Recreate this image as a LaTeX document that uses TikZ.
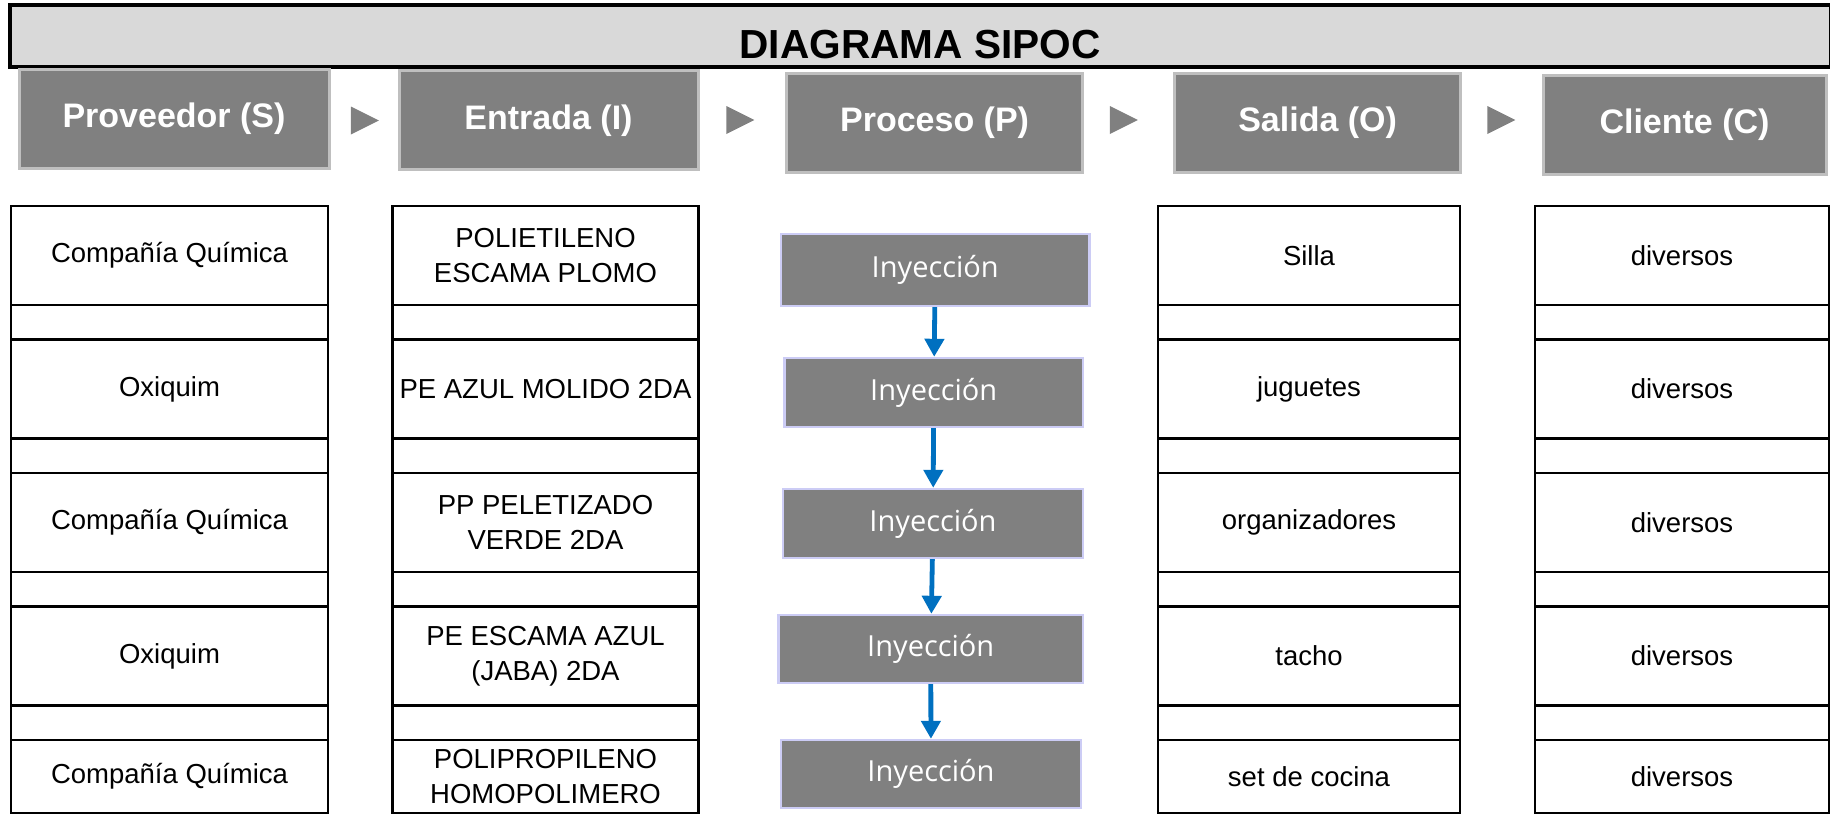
\documentclass[tikz,border=0pt]{standalone}
\usepackage{fontspec}
\setmainfont{Liberation Sans}
\newfontfamily\procfont{Open Sans}
\usetikzlibrary{arrows.meta,shapes.geometric}

\definecolor{grisCaja}{HTML}{808080}
\definecolor{grisBorde}{HTML}{BFBFBF}
\definecolor{grisTitulo}{HTML}{D9D9D9}
\definecolor{lilaBorde}{HTML}{CCCCF5}
\definecolor{azulFlecha}{HTML}{0070C0}

\tikzset{
  titulo/.style={draw=black, line width=1.7pt, fill=grisTitulo, minimum width=910.5pt, minimum height=31pt, inner sep=0pt},
  cabecera/.style={fill=grisCaja, draw=grisBorde, line width=1.5pt, text=white, font=\bfseries\fontsize{17}{20}\selectfont, minimum height=49.5pt, inner sep=0pt},
  flecha/.style={isosceles triangle, isosceles triangle stretches, fill=grisCaja, minimum width=14pt, minimum height=14pt, inner sep=0pt},
  celda/.style={draw=black, line width=1.2pt, align=center, inner sep=0pt, font=\fontsize{13.75}{17.5}\selectfont},
  colS/.style={minimum width=158.5pt},
  colE/.style={minimum width=153pt},
  colO/.style={minimum width=151pt},
  colC/.style={minimum width=147pt},
  proceso/.style={fill=grisCaja, draw=lilaBorde, line width=1.2pt, text=white, font=\procfont\fontsize{14.5}{17}\selectfont, inner sep=0pt},
  flujo/.style={draw=azulFlecha, line width=2.4pt, -{Triangle[length=9pt,width=9.5pt]}}
}

\begin{document}
\begin{tikzpicture}[x=0.5pt, y=-0.5pt]
\useasboundingbox (0,0) rectangle (1830,814);

% titulo
\node[titulo] (barra) at (920.5,36) {};
\node[font=\bfseries\fontsize{20.3}{23}\selectfont] (tituloTexto) at (920,44.5) {DIAGRAMA SIPOC};

% cabeceras SIPOC
\node[cabecera, minimum width=155pt] (hs) at (174,118.5) {Proveedor (S)};
\node[cabecera, minimum width=149.5pt] (he) at (548.5,120.3) {Entrada (I)};
\node[cabecera, minimum width=148pt] (hp) at (934.6,122.8) {Proceso (P)};
\node[cabecera, minimum width=142.7pt] (ho) at (1317.6,122.5) {Salida (O)};
\node[cabecera, minimum width=141.5pt] (hc) at (1684.5,124.5) {Cliente (C)};

\node[flecha] (t1) at (359.5,120.5) {};
\node[flecha] (t2) at (735,120) {};
\node[flecha] (t3) at (1118.5,120) {};
\node[flecha] (t4) at (1496,120) {};

% filas de la tabla
\foreach \i/\y/\h/\sv/\ev/\ov in {
  1/255.5/49.5/Compañía Química/{POLIETILENO\\ESCAMA PLOMO}/Silla,
  2/389/49.5/Oxiquim/PE AZUL MOLIDO 2DA/juguetes,
  3/522.5/49.5/Compañía Química/{PP PELETIZADO\\VERDE 2DA}/organizadores,
  4/656/49.5/Oxiquim/{PE ESCAMA AZUL\\(JABA) 2DA}/tacho,
  5/776.5/36.5/Compañía Química/{POLIPROPILENO\\HOMOPOLIMERO}/set de cocina}
{
  \node[celda, colS, minimum height=\h pt] (s\i) at (169.5,\y) {\sv};
  \node[celda, colE, minimum height=\h pt] (e\i) at (545.5,\y) {\ev};
  \node[celda, colO, minimum height=\h pt] (o\i) at (1309,\y) {\ov};
  \node[celda, colC, minimum height=\h pt] (c\i) at (1682,\y) {diversos};
}
\foreach \i in {1,...,4} {
  \node[celda, colS, minimum height=17.25pt] (gs\i) at (169.5,{322.25+133.5*(\i-1)}) {};
  \node[celda, colE, minimum height=17.25pt] (ge\i) at (545.5,{322.25+133.5*(\i-1)}) {};
  \node[celda, colO, minimum height=17.25pt] (go\i) at (1309,{322.25+133.5*(\i-1)}) {};
  \node[celda, colC, minimum height=17.25pt] (gc\i) at (1682,{322.25+133.5*(\i-1)}) {};
}

% proceso
\node[proceso, minimum width=154.25pt, minimum height=36pt] (p1) at (935.25,270) {Inyección};
\node[proceso, minimum width=149.25pt, minimum height=34.5pt] (p2) at (933.75,392.5) {Inyección};
\node[proceso, minimum width=150pt, minimum height=34.5pt] (p3) at (933,523.5) {Inyección};
\node[proceso, minimum width=152.25pt, minimum height=34pt] (p4) at (930.75,649) {Inyección};
\node[proceso, minimum width=150pt, minimum height=34pt] (p5) at (931,774) {Inyección};

\draw[flujo] (p1) -- (p2);
\draw[flujo] (p2) -- (p3);
\draw[flujo] (p3) -- (p4);
\draw[flujo] (p4) -- (p5);
\end{tikzpicture}
\end{document}
